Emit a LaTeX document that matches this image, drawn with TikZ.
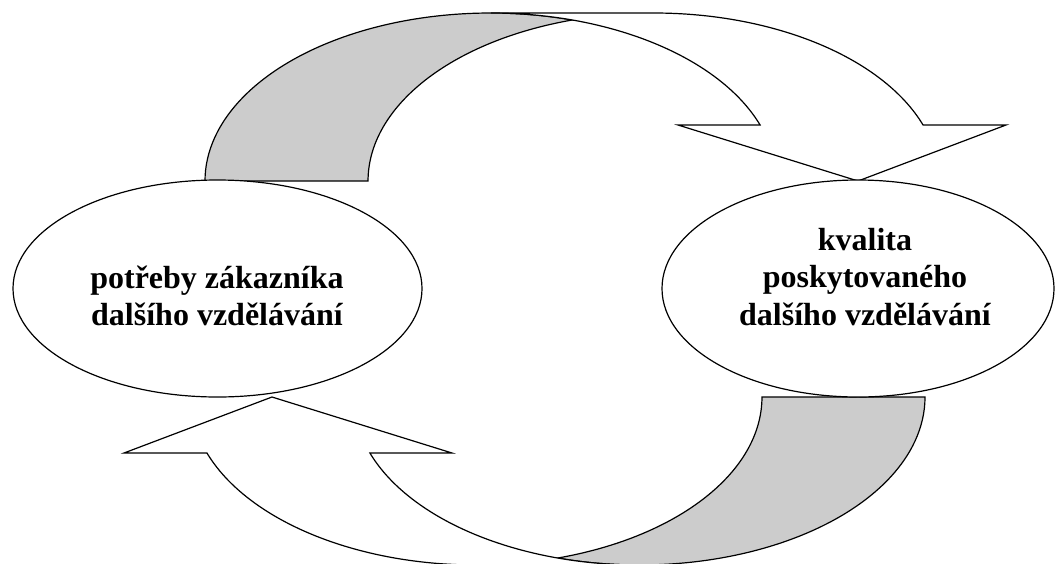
\documentclass[tikz,border=0pt]{standalone}
\usepackage{fontspec}
\setmainfont{Liberation Serif}
\usetikzlibrary{shapes.geometric}
\definecolor{backgray}{RGB}{204,204,204}
\tikzset{
  outline/.style={draw=black, line width=1.2pt, line join=miter},
  backpart/.style={outline, fill=backgray},
  frontpart/.style={outline, fill=white},
  bubble/.style={ellipse, draw=black, line width=1.2pt, fill=white, inner sep=0pt},
  lbl/.style={anchor=base, inner sep=0pt, font=\bfseries\fontsize{32}{37.5}\selectfont},
  arcAB/.style={x radius=285.7pt, y radius=168pt}
}
\begin{document}
\begin{tikzpicture}[x=1pt, y=1pt, yscale=-1]
\useasboundingbox (0,0) rectangle (1059,563);
% upper curved arrow (left -> right)
\begin{scope}
  \path[backpart] (205,181) arc[arcAB, start angle=180, end angle=286.58]
                  arc[arcAB, start angle=253.42, end angle=180] -- cycle;
  \path[frontpart] (858,181) -- (678,125) -- (760.1,125)
                   arc[arcAB, start angle=340.53, end angle=270] -- (653.7,13)
                   arc[arcAB, start angle=270, end angle=340.53] -- (1006,125) -- cycle;
\end{scope}
% lower curved arrow (right -> left), same shape turned half a turn
\begin{scope}[rotate around={180:(565,289)}]
  \path[backpart] (205,181) arc[arcAB, start angle=180, end angle=286.58]
                  arc[arcAB, start angle=253.42, end angle=180] -- cycle;
  \path[frontpart] (858,181) -- (678,125) -- (760.1,125)
                   arc[arcAB, start angle=340.53, end angle=270] -- (653.7,13)
                   arc[arcAB, start angle=270, end angle=340.53] -- (1006,125) -- cycle;
\end{scope}
% ellipses
\node[bubble, minimum width=409pt, minimum height=217pt] (left) at (217.5,288.5) {};
\node[bubble, minimum width=392pt, minimum height=217pt] (right) at (858,288.5) {};
% texts
\node[lbl] (l1) at (217,288) {potřeby zákazníka};
\node[lbl] (l2) at (217,325) {dalšího vzdělávání};
\node[lbl] (r1) at (865,250) {kvalita};
\node[lbl] (r2) at (865,287) {poskytovaného};
\node[lbl] (r3) at (865,325) {dalšího vzdělávání};
\end{tikzpicture}
\end{document}
